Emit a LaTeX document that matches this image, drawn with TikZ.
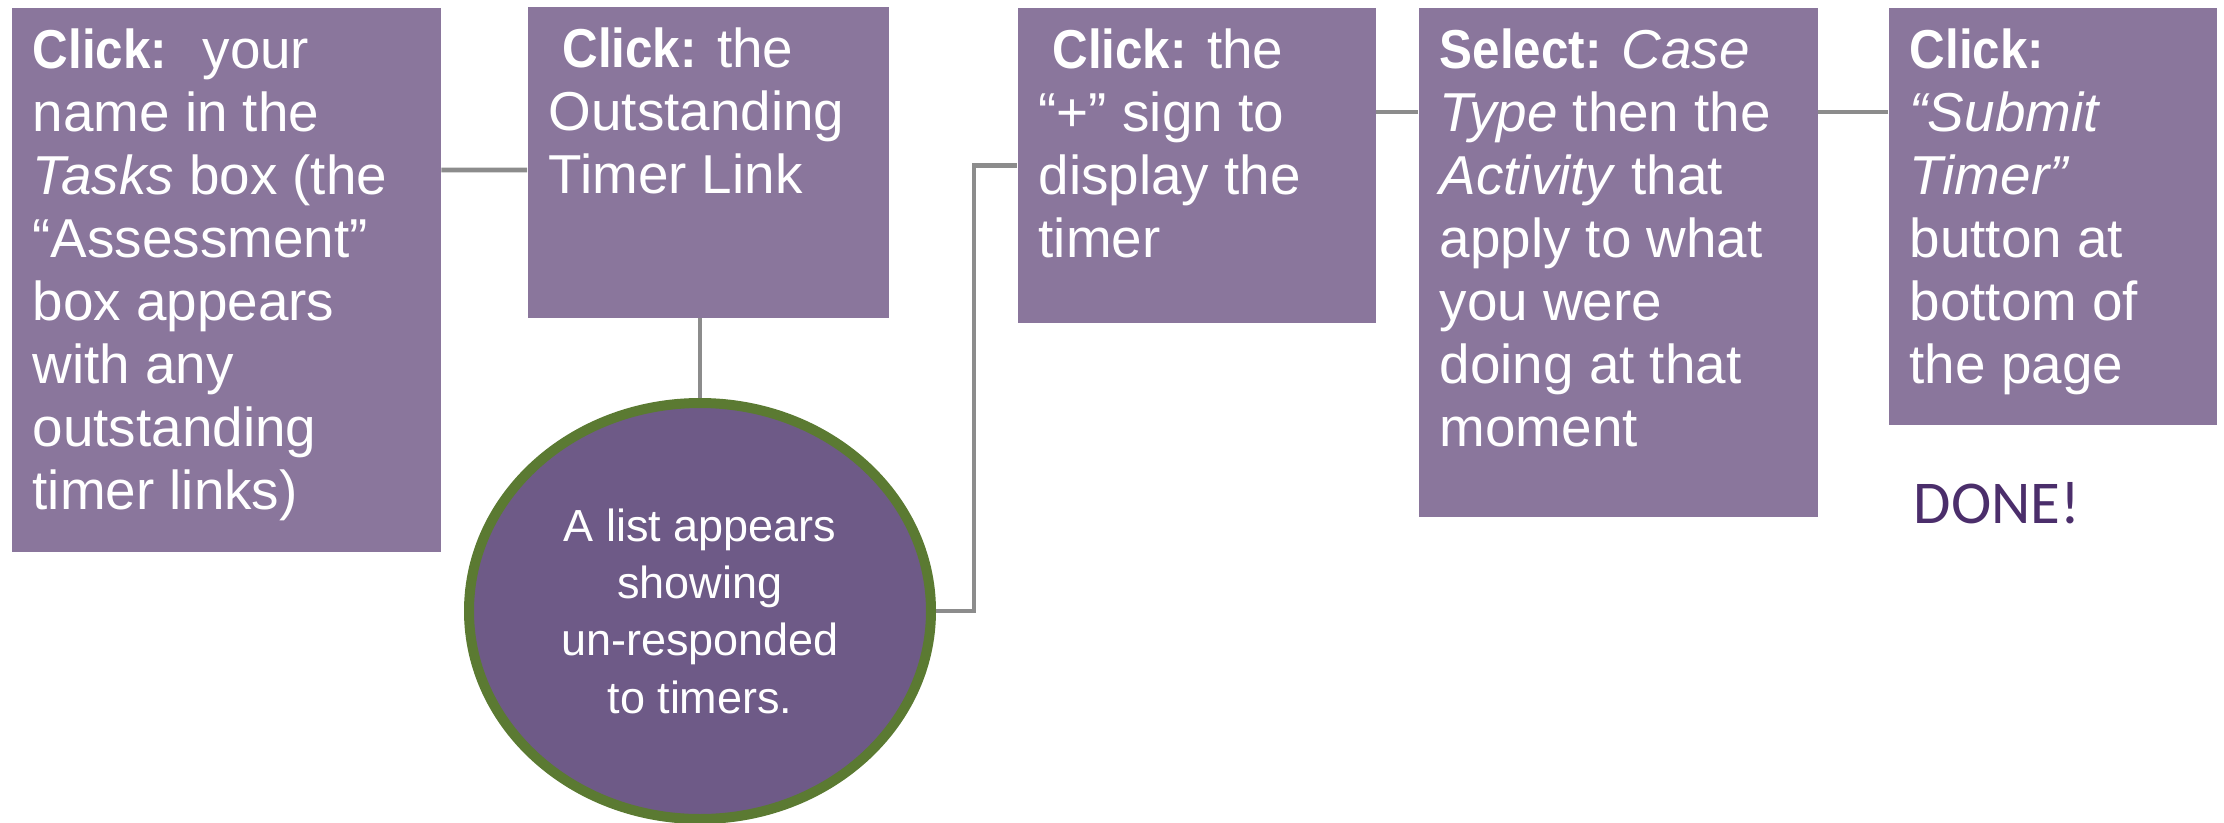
\documentclass[tikz,border=0pt]{standalone}
\usepackage{fontspec}
\setmainfont{Liberation Sans}[BoldFeatures={FakeStretch=0.9}]
\newfontfamily\donefont{Carlito}
\usetikzlibrary{shapes.geometric}

\definecolor{boxpurple}{HTML}{8A769C}
\definecolor{listpurple}{HTML}{6E5A87}
\definecolor{listgreen}{HTML}{5B7A32}
\definecolor{linegray}{HTML}{8C8C8C}
\definecolor{donepurple}{HTML}{4B2E6B}

% top aligned text inside a step box
\newcommand{\steptext}[3]{\parbox[t][#2][t]{#1}{\raggedright\strut#3}}

\tikzset{
    stepbox/.style={fill=boxpurple, text=white, anchor=north west, inner xsep=0.21cm, inner ysep=0.17cm, font=\fontsize{15.6pt}{17.9pt}\selectfont},
    listnode/.style={ellipse, fill=listpurple, draw=listgreen, line width=0.1cm, minimum width=4.62cm, minimum height=4.16cm, inner sep=0pt, align=center, text=white, font=\fontsize{12.8pt}{16.3pt}\selectfont},
    link/.style={draw=linegray, line width=1.4pt}
}

\begin{document}
\begin{tikzpicture}
    \useasboundingbox (0,0) rectangle (22.24,-8.22);

    % Steps
    \node[stepbox] (click1) at (0.11,-0.07) {\steptext{3.87cm}{5.10cm}{\textbf{Click:}~ your\\name in the\\\textit{Tasks} box (the\\“Assessment”\\box appears\\with any\\outstanding\\timer links)}};
    \node[stepbox] (outstanding) at (5.27,-0.06) {\steptext{3.19cm}{2.77cm}{\hspace{0.25em}\textbf{Click:} the\\Outstanding\\Timer Link}};
    \node[stepbox] (plus) at (10.17,-0.07) {\steptext{3.16cm}{2.81cm}{\hspace{0.25em}\textbf{Click:} the\\“+” sign to\\display the\\timer}};
    \node[stepbox] (select) at (14.18,-0.07) {\steptext{3.57cm}{4.75cm}{\textbf{Select:} \textit{Case}\\\textit{Type} then the\\\textit{Activity} that\\apply to what\\you were\\doing at that\\moment}};
    \node[stepbox] (submit) at (18.88,-0.07) {\steptext{2.86cm}{3.83cm}{\textbf{Click:}\\\textit{“Submit}\\\textit{Timer”}\\button at\\bottom of\\the page}};

    % List of timers
    \node[listnode] (list) at (7.00,-6.11) {A list appears\\showing\\un-responded\\to timers.};

    % Done
    \node[anchor=base west, inner sep=0pt, text=donepurple, font=\donefont\fontsize{17.3pt}{20pt}\selectfont] (done) at (19.13,-5.23) {DONE!};

    % Connectors
    \draw[link] ([yshift=-1.63cm]click1.north east) -- ([yshift=-1.64cm]outstanding.north west);
    \draw[link] (outstanding.south -| list.north) -- (list.north);
    \draw[link] (list.east) -- ++(0.38,0) |- (plus.west);
    \draw[link] ([yshift=-1.05cm]plus.north east) -- ([yshift=-1.05cm]select.north west);
    \draw[link] ([yshift=-1.05cm]select.north east) -- ([yshift=-1.05cm]submit.north west);
\end{tikzpicture}
\end{document}
